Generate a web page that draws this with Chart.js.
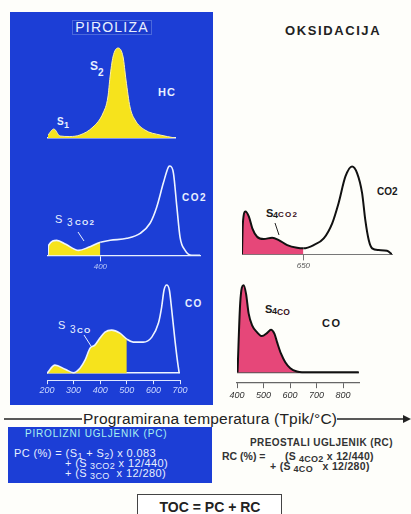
<!DOCTYPE html>
<html><head><meta charset="utf-8">
<script src="https://cdn.jsdelivr.net/npm/chart.js@4"></script>
<style>
html,body{margin:0;padding:0;background:#fefefa;}
#root{position:relative;width:411px;height:514px;overflow:hidden;font-family:"Liberation Sans",Arial,sans-serif;}
.abs{position:absolute;white-space:nowrap;line-height:1;}
.lt{color:#e8f0ff;}
.dk{color:#1a1a1a;}
.b{font-weight:bold;}
</style></head><body>
<div id="root">
  <div class="abs" style="left:10px;top:12px;width:203px;height:393px;background:#1c3ed6"></div>
  <div class="abs" style="left:8px;top:427px;width:204px;height:56px;background:#1c3ed6"></div>
  <div class="abs" style="left:137px;top:494px;width:143px;height:26px;border:1.5px solid #444;background:#fff"></div>

  <div class="abs lt" style="left:72px;top:20px;width:78px;height:13px;background:#1a3acc;border:1px solid #4a68dc;font-size:14px;line-height:13px;text-align:center;letter-spacing:1.2px">PIROLIZA</div>
  <div class="abs dk b" style="left:285px;top:24px;font-size:13px;letter-spacing:1.6px;color:#222">OKSIDACIJA</div>

  <div class="abs lt b" style="left:90px;top:60px;font-size:12px">S</div>
  <div class="abs lt b" style="left:98px;top:68px;font-size:10px">2</div>
  <div class="abs lt b" style="left:57px;top:117px;font-size:10px">S</div>
  <div class="abs lt b" style="left:64px;top:121px;font-size:9px">1</div>
  <div class="abs lt b" style="left:158px;top:87px;font-size:11px;letter-spacing:1px">HC</div>

  <div class="abs lt" style="left:55px;top:214px;font-size:11px">S</div>
  <div class="abs lt" style="left:67px;top:218px;font-size:10px">3</div>
  <div class="abs lt b" style="left:75px;top:219px;font-size:8px;letter-spacing:1.2px">CO2</div>
  <div class="abs lt b" style="left:182px;top:193px;font-size:10px;letter-spacing:1.5px">CO2</div>

  <div class="abs lt" style="left:58px;top:320px;font-size:11px">S</div>
  <div class="abs lt" style="left:70px;top:325px;font-size:10px">3</div>
  <div class="abs lt b" style="left:77px;top:327px;font-size:8px;letter-spacing:1.2px">CO</div>
  <div class="abs lt b" style="left:185px;top:299px;font-size:10px;letter-spacing:1.2px">CO</div>

  <div class="abs dk b" style="left:266px;top:208px;font-size:11px">S</div>
  <div class="abs dk b" style="left:273px;top:211px;font-size:9px">4</div>
  <div class="abs b" style="left:278px;top:211px;font-size:8px;letter-spacing:1.2px;color:#3a1020">CO2</div>
  <div class="abs dk b" style="left:377px;top:187px;font-size:10px">CO2</div>

  <div class="abs dk b" style="left:265px;top:304px;font-size:11px">S</div>
  <div class="abs dk b" style="left:272px;top:307px;font-size:9px">4</div>
  <div class="abs b" style="left:277px;top:308px;font-size:8.5px;color:#3a1020">CO</div>
  <div class="abs dk b" style="left:322px;top:318px;font-size:11px;letter-spacing:1.5px">CO</div>

  <svg class="abs" style="left:0;top:0" width="411" height="514">
    <line x1="78" y1="232" x2="84" y2="241" stroke="#e8f0ff" stroke-width="1"/>
    <line x1="84" y1="335" x2="91" y2="346" stroke="#e8f0ff" stroke-width="1"/>
    <line x1="275" y1="223" x2="279" y2="235" stroke="#222" stroke-width="1"/>
    <line x1="4" y1="419" x2="82" y2="419" stroke="#222" stroke-width="1.3"/>
    <line x1="337" y1="419" x2="405" y2="419" stroke="#222" stroke-width="1.3"/>
    <polygon points="403,415 411,419 403,423" fill="#222"/>
  </svg>
  <div class="abs dk" style="left:83px;top:411px;font-size:15.5px;letter-spacing:0.2px;color:#222">Programirana temperatura (Tpik/°C)</div>

  <div class="abs" style="left:25px;top:429px;font-size:10px;letter-spacing:0.8px;color:#a8f0f0">PIROLIZNI UGLJENIK (PC)</div>
  <div class="abs lt" style="left:14px;top:448px;font-size:11px;letter-spacing:0.4px">PC (%) = (S<span style="font-size:9px;position:relative;top:2px">1</span> + S<span style="font-size:9px;position:relative;top:2px">2</span>) x 0.083</div>
  <div class="abs lt" style="left:65px;top:458px;font-size:11px;letter-spacing:0.4px">+ (S<span style="font-size:9px;position:relative;top:2px"> 3CO2</span> x 12/440)</div>
  <div class="abs lt" style="left:65px;top:468px;font-size:11px;letter-spacing:0.4px">+ (S<span style="font-size:9px;position:relative;top:2px"> 3CO</span>&nbsp; x 12/280)</div>

  <div class="abs b" style="left:250px;top:438px;font-size:10px;letter-spacing:0.4px;color:#333">PREOSTALI UGLJENIK (RC)</div>
  <div class="abs b" style="left:222px;top:451px;font-size:10.5px;color:#333">RC (%) =</div>
  <div class="abs b" style="left:285px;top:451px;font-size:10.5px;letter-spacing:0.3px;color:#333">(S<span style="font-size:9px;position:relative;top:2px"> 4CO2</span> x 12/440)</div>
  <div class="abs b" style="left:270px;top:461px;font-size:10.5px;letter-spacing:0.3px;color:#333">+ (S<span style="font-size:9px;position:relative;top:2px"> 4CO</span>&nbsp;&nbsp; x 12/280)</div>

  <div class="abs b" style="left:137px;top:500px;width:146px;text-align:center;font-size:14px;color:#222">TOC = PC + RC</div>
</div>
<script>
// ---- data (temperature °C, relative signal) ----
const hcTemp   = [204,226,249,286,324,373,411,429,437,448,467,486,497,512,531,568,625,681];
const hcSignal = [3,9,2,1.5,3,11,25,41,61,81,90,81,58,31,18,8,3,0];

const co2PyTemp   = [203,205,236,270,318,355,400,437,500,550,587,612,637,656,662,675,688,700,719,744,775];
const co2PySignal = [0,10,15,11,5,8,13,15,17,22,32,48,72,88,89,82,48,18,5,0,0];

const coPyTemp   = [200,230,268,299,324,343,362,380,399,418,443,474,500,524,562,594,619,631,640,650,660,669,681,690,697];
const coPySignal = [0,8,4,0.5,5,13,25,28,35,41,43,40,34,31,31,36,50,66,83,88,83,63,33,13,0];

const co2OxTemp   = [418,421,431,444,457,475,500,532,557,589,626,650,689,727,759,783,809,834,853,872,884,897,910,934,966,985];
const co2OxSignal = [0,30,42.6,37.6,26,17.6,15.3,16.6,14.3,9.3,6.6,6,9.3,16,31,51,77.6,87.6,81,61,34.3,14.3,6,4.3,3.6,0];

const coOxTemp   = [402,412,425,434,444,457,475,494,513,528,541,551,566,582,601,626,645,859];
const coOxSignal = [0,68.7,86.7,78.4,58.4,46.7,40,36,39,42.4,38.4,30,18.4,10,4,0.7,0,0];

const pyroTicks = [200,300,400,500,600,700];
const oxTicks   = [400,500,600,700,800];
const co2PyTicks = [400];
const co2OxTicks = [650];
const co2PySplit = 400, coPySplit = 500, co2OxSplit = 650;

// ---- layout (pixel boxes of each plot area) ----
const boxes = {
  hc:    {x0:48,    x1:175,   top:46,    bottom:138,   xmin:204, xmax:681, ymin:0,   ymax:92},
  co2Py: {x0:48,    x1:200,   top:163,   bottom:255,   xmin:203, xmax:775, ymin:0,   ymax:92},
  coPy:  {x0:47,    x1:180,   top:281,   bottom:380,   xmin:200, xmax:700, ymin:-7,  ymax:92},
  co2Ox: {x0:241.7, x1:391.7, top:162.3, bottom:254.3, xmin:418, xmax:985, ymin:0,   ymax:92},
  coOx:  {x0:236.7, x1:358.3, top:281.7, bottom:381.7, xmin:400, xmax:860, ymin:-10, ymax:90}
};
const YELLOW = '#f6e31c', PINK = '#e64779';
const P = 14, T = 4, B = 3;
const FONT = '"Liberation Sans", Arial, sans-serif';

function buildChart(box, temps, signal, st) {
  const root = document.getElementById('root');
  const wrap = document.createElement('div');
  wrap.className = 'abs';
  root.appendChild(wrap);
  const pts = temps.map((t, i) => ({x: t, y: signal[i]}));
  const hasTicks = !!st.ticks;
  function make(w, h) {
    wrap.innerHTML = '';
    const cv = document.createElement('canvas');
    cv.width = w; cv.height = h; cv.style.width = w + 'px'; cv.style.height = h + 'px';
    wrap.appendChild(cv);
    const ds = {data: pts, borderColor: st.line, borderWidth: st.lineWidth, pointRadius: 0,
      fill: 'origin', backgroundColor: st.fill, cubicInterpolationMode: 'monotone'};
    if (st.split != null) ds.segment = {backgroundColor: c => c.p0.parsed.x < st.split ? st.fill : 'rgba(0,0,0,0)'};
    return new Chart(cv, {
      type: 'line',
      data: {datasets: [ds]},
      options: {
        responsive: false, maintainAspectRatio: false, animation: false,
        layout: {padding: {left: P, right: P, top: T, bottom: B}},
        plugins: {legend: {display: false}, tooltip: {enabled: false}},
        scales: {
          x: {type: 'linear', min: box.xmin, max: box.xmax, display: true,
            border: {display: true, color: st.axis, width: st.axisWidth},
            grid: {display: hasTicks, drawOnChartArea: false, drawTicks: hasTicks, tickLength: st.tickLength || 4, color: st.axis, lineWidth: 1},
            ticks: {display: hasTicks, padding: st.tickPadding || 0, color: st.tickColor, autoSkip: false, maxRotation: 0,
              font: {family: FONT, size: st.tickSize || 9, style: 'italic'}},
            afterBuildTicks: s => { if (hasTicks) s.ticks = st.ticks.map(v => ({value: v})); }
          },
          y: {type: 'linear', min: box.ymin, max: box.ymax, display: !!st.baseline,
            border: {display: false}, ticks: {display: false},
            grid: {display: true, drawTicks: false, color: st.baseline || 'rgba(0,0,0,0)', lineWidth: st.baselineWidth || 1},
            afterBuildTicks: s => { s.ticks = [{value: 0}]; }
          }
        }
      }
    });
  }
  let w = Math.round(box.x1 - box.x0 + 2 * P), h = Math.round(box.bottom - box.top + T + B + 20);
  let chart = make(w, h);
  let ca = chart.chartArea;
  const dw = Math.round((box.x1 - box.x0) - (ca.right - ca.left));
  const dh = Math.round((box.bottom - box.top) - (ca.bottom - ca.top));
  if (dw !== 0 || dh !== 0) { chart.destroy(); chart = make(w + dw, h + dh); ca = chart.chartArea; }
  wrap.style.left = (box.x0 - ca.left) + 'px';
  wrap.style.top = (box.top - ca.top) + 'px';
  return chart;
}

buildChart(boxes.hc, hcTemp, hcSignal, {line: '#fff3a0', lineWidth: 1, fill: YELLOW, axis: '#e8f0ff', axisWidth: 1.5});
buildChart(boxes.co2Py, co2PyTemp, co2PySignal, {line: '#eef4ff', lineWidth: 1.6, fill: YELLOW, split: co2PySplit,
  axis: '#e8f0ff', axisWidth: 1.3, ticks: co2PyTicks, tickLength: 6, tickPadding: 1, tickSize: 8, tickColor: '#b9c9f6'});
buildChart(boxes.coPy, coPyTemp, coPySignal, {line: '#eef4ff', lineWidth: 1.6, fill: YELLOW, split: coPySplit,
  baseline: '#eef4ff', baselineWidth: 1.5,
  axis: '#dfe8ff', axisWidth: 1, ticks: pyroTicks, tickLength: 4, tickPadding: 1, tickSize: 9, tickColor: '#c9d6ff'});
buildChart(boxes.co2Ox, co2OxTemp, co2OxSignal, {line: '#111', lineWidth: 2, fill: PINK, split: co2OxSplit,
  axis: '#777', axisWidth: 1, ticks: co2OxTicks, tickLength: 6, tickPadding: 1, tickSize: 8, tickColor: '#555'});
buildChart(boxes.coOx, coOxTemp, coOxSignal, {line: '#111', lineWidth: 2, fill: PINK,
  baseline: '#555', baselineWidth: 1.2,
  axis: '#666', axisWidth: 1.2, ticks: oxTicks, tickLength: 6, tickPadding: 2, tickSize: 9, tickColor: '#333'});
</script>
</body></html>
